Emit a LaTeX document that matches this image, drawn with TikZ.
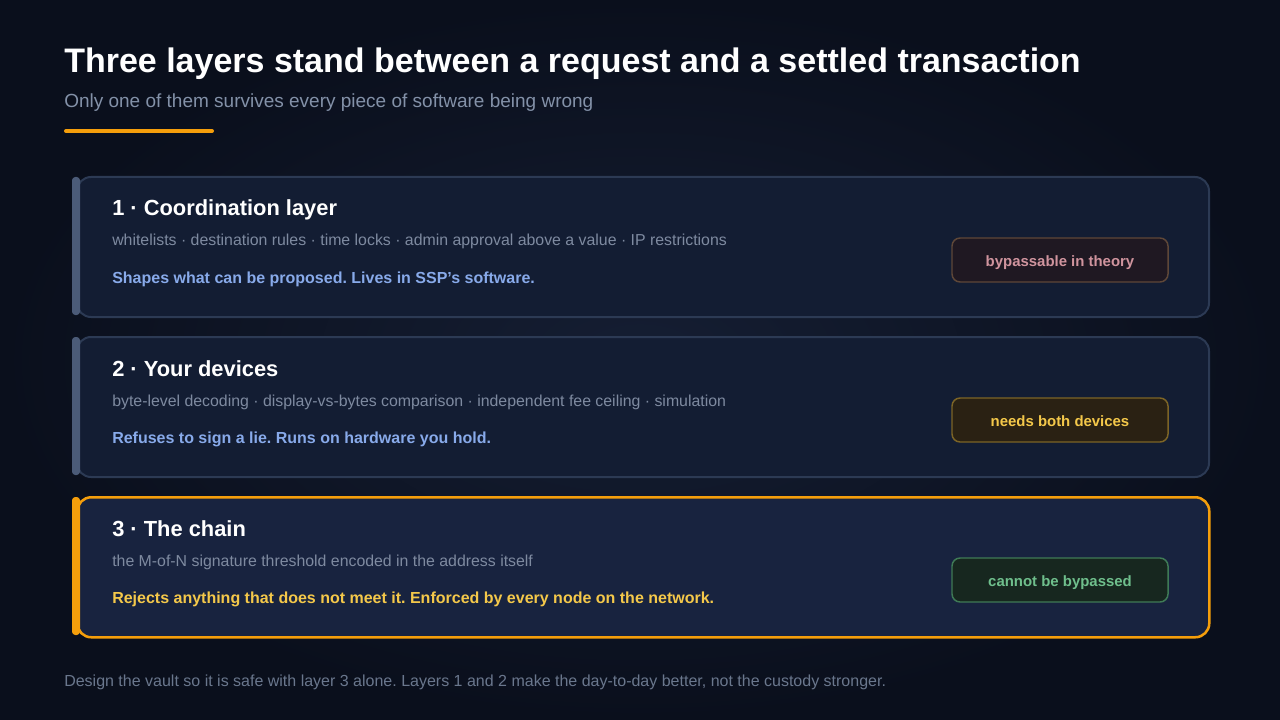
\documentclass[tikz,border=0pt]{standalone}
\usepackage{fontspec}
\setmainfont{Liberation Sans}
\frenchspacing
\definecolor{bgdark}{HTML}{0A0F1C}
\definecolor{bgmid}{HTML}{151E33}
\definecolor{cardfill}{HTML}{131D33}
\definecolor{cardline}{HTML}{2C3A54}
\definecolor{chainfill}{HTML}{18233F}
\definecolor{amber}{HTML}{F59E0B}
\definecolor{slatebar}{HTML}{4B5B78}
\definecolor{subgrey}{HTML}{8391A8}
\definecolor{notegrey}{HTML}{7E8AA0}
\definecolor{footgrey}{HTML}{6A778D}
\definecolor{skyblue}{HTML}{88AAEA}
\definecolor{goldtext}{HTML}{F4C84A}
\definecolor{rosefill}{HTML}{1F1822}
\definecolor{roseline}{HTML}{5E4738}
\definecolor{rosetext}{HTML}{D0949E}
\definecolor{honeyfill}{HTML}{2A2113}
\definecolor{honeyline}{HTML}{7C6426}
\definecolor{mintfill}{HTML}{17271F}
\definecolor{mintline}{HTML}{3F7A56}
\definecolor{minttext}{HTML}{6FBF8C}
\begin{document}
\begin{tikzpicture}[x=0.75pt,y=-0.75pt,
    layer/.style={draw=cardline,fill=cardfill,line width=1.5pt,rounded corners=10.5pt,
      minimum width=849pt,minimum height=105pt,anchor=north west,inner sep=0pt},
    accent/.style={fill=slatebar,rounded corners=2.5pt},
    heading/.style={anchor=base west,inner sep=0pt,text=white,font=\fontsize{16.4}{20}\selectfont\bfseries},
    detail/.style={anchor=base west,inner sep=0pt,text=notegrey,font=\fontsize{11.9}{14}\selectfont},
    claim/.style={anchor=base west,inner sep=0pt,font=\fontsize{12}{14}\selectfont\bfseries},
    badge/.style={line width=1.1pt,rounded corners=6pt,minimum width=162pt,minimum height=33pt,
      inner sep=0pt,text height=9pt,text depth=0pt,font=\fontsize{11.2}{13}\selectfont\bfseries}]
  \shade[inner color=bgmid,outer color=bgdark] (0,0) rectangle (1280,720);
  \useasboundingbox (0,0) rectangle (1280,720);

  \node[anchor=base west,inner sep=0pt,text=white,font=\fontsize{25.5}{30}\selectfont\bfseries]
    (title) at (64,73) {Three layers stand between a request and a settled transaction};
  \node[anchor=base west,inner sep=0pt,text=subgrey,font=\fontsize{14.25}{17}\selectfont]
    (subtitle) at (64,108) {Only one of them survives every piece of software being wrong};
  \draw[amber,line width=3pt,line cap=round] (66,131) -- (212,131);

  \node[layer] (coord) at (76,176) {};
  \fill[accent] (72,177) rectangle (80,315);
  \node[heading] (coordtitle) at (112,216) {1 · Coordination layer};
  \node[detail] (coordlist) at (112,246) {whitelists · destination rules · time locks · admin approval above a value · IP restrictions};
  \node[claim,text=skyblue] (coordclaim) at (112,283) {Shapes what can be proposed. Lives in SSP\char39 s software.};
  \node[badge,draw=roseline,fill=rosefill,text=rosetext] (coordbadge) at (1060,260) {bypassable in theory};

  \node[layer] (device) at (76,336) {};
  \fill[accent] (72,337) rectangle (80,475);
  \node[heading] (devicetitle) at (112,376) {2 · Your devices};
  \node[detail] (devicelist) at (112,406) {byte-level decoding · display-vs-bytes comparison · independent fee ceiling · simulation};
  \node[claim,text=skyblue] (deviceclaim) at (112,443) {Refuses to sign a lie. Runs on hardware you hold.};
  \node[badge,draw=honeyline,fill=honeyfill,text=goldtext] (devicebadge) at (1060,420) {needs both devices};

  \node[layer,draw=amber,fill=chainfill,line width=1.9pt] (chain) at (76,496) {};
  \fill[accent,fill=amber] (72,497) rectangle (80,635);
  \node[heading] (chaintitle) at (112,536) {3 · The chain};
  \node[detail] (chainlist) at (112,566) {the M-of-N signature threshold encoded in the address itself};
  \node[claim,text=goldtext] (chainclaim) at (112,603) {Rejects anything that does not meet it. Enforced by every node on the network.};
  \node[badge,draw=mintline,fill=mintfill,text=minttext] (chainbadge) at (1060,580) {cannot be bypassed};

  \node[anchor=base west,inner sep=0pt,text=footgrey,font=\fontsize{12}{14}\selectfont]
    (footer) at (64,686) {Design the vault so it is safe with layer 3 alone. Layers 1 and 2 make the day-to-day better, not the custody stronger.};
\end{tikzpicture}
\end{document}
